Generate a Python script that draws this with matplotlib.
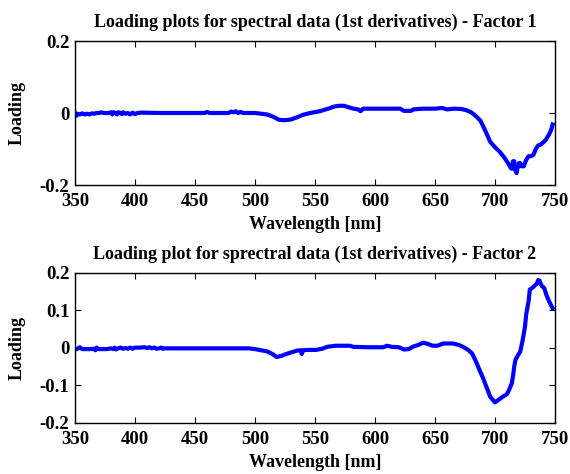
import matplotlib
matplotlib.use("Agg")
import matplotlib.pyplot as plt

# Factor 1 loadings
wl_f1 = [350, 351, 352, 354, 356, 358, 360, 362, 364, 366, 368, 370, 372, 374, 376,
         378, 380, 381, 382, 384, 385, 386, 388, 389, 390, 392, 394, 396, 398, 400,
         402, 405, 420, 440, 458, 460, 462, 470, 478, 480, 482, 484, 486, 488, 490,
         495, 500, 505, 510, 515, 520, 525, 530, 535, 540, 546, 554, 562, 566, 570,
         574, 578, 582, 586, 588, 590, 600, 610, 621, 624, 630, 632, 640, 650, 656,
         660, 666, 672, 676, 680, 684, 688, 692, 696, 700, 704, 708, 711, 713, 714,
         715, 716, 717, 718, 719, 720, 721, 722, 724, 726, 728, 730, 732, 734, 736,
         738, 742, 745, 747, 748]
ld_f1 = [-0.001, -0.008, -0.002, -0.004, -0.001, -0.004, -0.002, -0.004, -0.001, -0.002, 0.0, 0.0, 0.002, 0.0, 0.0,
         0.0, 0.002, -0.004, 0.002, 0.0, -0.004, 0.002, 0.0, -0.003, 0.002, -0.002, 0.0, -0.004, 0.001, -0.003,
         0.0, 0.001, 0.0, 0.0, 0.0, 0.003, 0.0, 0.0, 0.0, 0.004, 0.002, 0.005, 0.0, 0.003, 0.0,
         0.0, 0.0, -0.002, -0.004, -0.01, -0.019, -0.02, -0.018, -0.012, -0.005, 0.0, 0.005, 0.013, 0.018, 0.02,
         0.02, 0.016, 0.012, 0.01, 0.005, 0.012, 0.012, 0.012, 0.012, 0.006, 0.006, 0.01, 0.012, 0.012, 0.014,
         0.01, 0.012, 0.011, 0.008, 0.002, -0.008, -0.022, -0.05, -0.08, -0.095, -0.108, -0.125, -0.14, -0.152, -0.155,
         -0.134, -0.134, -0.16, -0.167, -0.15, -0.139, -0.139, -0.148, -0.148, -0.13, -0.12, -0.12, -0.116, -0.1, -0.09,
         -0.088, -0.076, -0.06, -0.045, -0.032]

# Factor 2 loadings
wl_f2 = [350, 352, 354, 356, 358, 360, 362, 366, 367, 368, 370, 372, 376, 380, 382,
         383, 384, 386, 388, 390, 392, 394, 396, 398, 400, 404, 408, 410, 412, 414,
         416, 418, 420, 422, 423, 425, 440, 460, 480, 495, 500, 505, 510, 515, 518,
         522, 526, 530, 535, 538, 539, 540, 545, 551, 556, 560, 567, 579, 582, 595,
         607, 610, 614, 620, 624, 628, 632, 636, 640, 644, 648, 652, 657, 665, 670,
         674, 678, 681, 684, 687, 690, 693, 696, 700, 703, 706, 710, 712, 714, 715,
         716, 717, 719, 721, 723, 725, 726, 728, 729, 731, 733, 735, 736, 737, 739,
         741, 743, 745, 747, 748]
ld_f2 = [-0.004, -0.002, 0.002, -0.003, -0.003, -0.003, -0.003, -0.002, -0.006, 0.001, -0.003, -0.003, -0.003, -0.001, -0.003,
         0.001, -0.004, -0.001, 0.001, -0.002, 0.0, -0.002, 0.001, -0.002, 0.001, 0.001, 0.002, 0.0, 0.002, -0.001,
         0.001, -0.002, -0.001, 0.001, -0.002, -0.001, -0.001, -0.001, -0.001, -0.001, -0.003, -0.006, -0.009, -0.017, -0.024,
         -0.021, -0.016, -0.012, -0.007, -0.006, -0.016, -0.006, -0.005, -0.005, -0.002, 0.003, 0.006, 0.006, 0.003, 0.002,
         0.002, 0.006, 0.003, 0.002, -0.004, -0.003, 0.004, 0.008, 0.014, 0.011, 0.006, 0.006, 0.012, 0.012, 0.008,
         0.002, -0.006, -0.015, -0.035, -0.058, -0.08, -0.105, -0.13, -0.145, -0.138, -0.131, -0.123, -0.11, -0.094, -0.075,
         -0.05, -0.032, -0.02, -0.01, 0.02, 0.057, 0.09, 0.125, 0.156, 0.16, 0.166, 0.172, 0.181, 0.18, 0.165,
         0.16, 0.14, 0.125, 0.112, 0.106]

x_ticks = [350, 400, 450, 500, 550, 600, 650, 700, 750]

plt.rcParams["font.family"] = ["Liberation Serif", "DejaVu Serif"]
plt.rcParams["font.weight"] = "bold"

fig = plt.figure(figsize=(5.7, 4.74), dpi=100)
fig.patch.set_facecolor("white")

panels = [
    (wl_f1, ld_f1, [0.1316, 0.6097, 0.8421, 0.3038],
     "Loading plots for spectral data (1st derivatives) - Factor 1",
     [-0.2, 0, 0.2], ["-0.2", "0", "0.2"]),
    (wl_f2, ld_f2, [0.1316, 0.1076, 0.8421, 0.3165],
     "Loading plot for sprectral data (1st derivatives) - Factor 2",
     [-0.2, -0.1, 0, 0.1, 0.2], ["-0.2", "-0.1", "0", "0.1", "0.2"]),
]

for wl, ld, pos, title, yt, ytl in panels:
    ax = fig.add_axes(pos)
    ax.plot(wl, ld, color="#0000ff", linewidth=3.0, solid_joinstyle="round")
    ax.set_xlim(350, 750)
    ax.set_ylim(-0.2, 0.2)
    ax.set_xticks(x_ticks)
    ax.set_xticklabels([str(t) for t in x_ticks])
    ax.set_yticks(yt)
    ax.set_yticklabels(ytl)
    ax.tick_params(direction="in", top=True, right=True, length=4, width=0.8,
                   labelsize=13.5)
    ax.tick_params(axis="x", pad=6)
    ax.tick_params(axis="y", pad=4)
    for s in ax.spines.values():
        s.set_linewidth(1.0)
    ax.set_title(title, fontsize=13, fontweight="bold", pad=10)
    ax.set_xlabel("Wavelength [nm]", fontsize=13, fontweight="bold", labelpad=4)
    ax.set_ylabel("Loading", fontsize=13, fontweight="bold", labelpad=10)

fig.savefig("out.png", dpi=100)
